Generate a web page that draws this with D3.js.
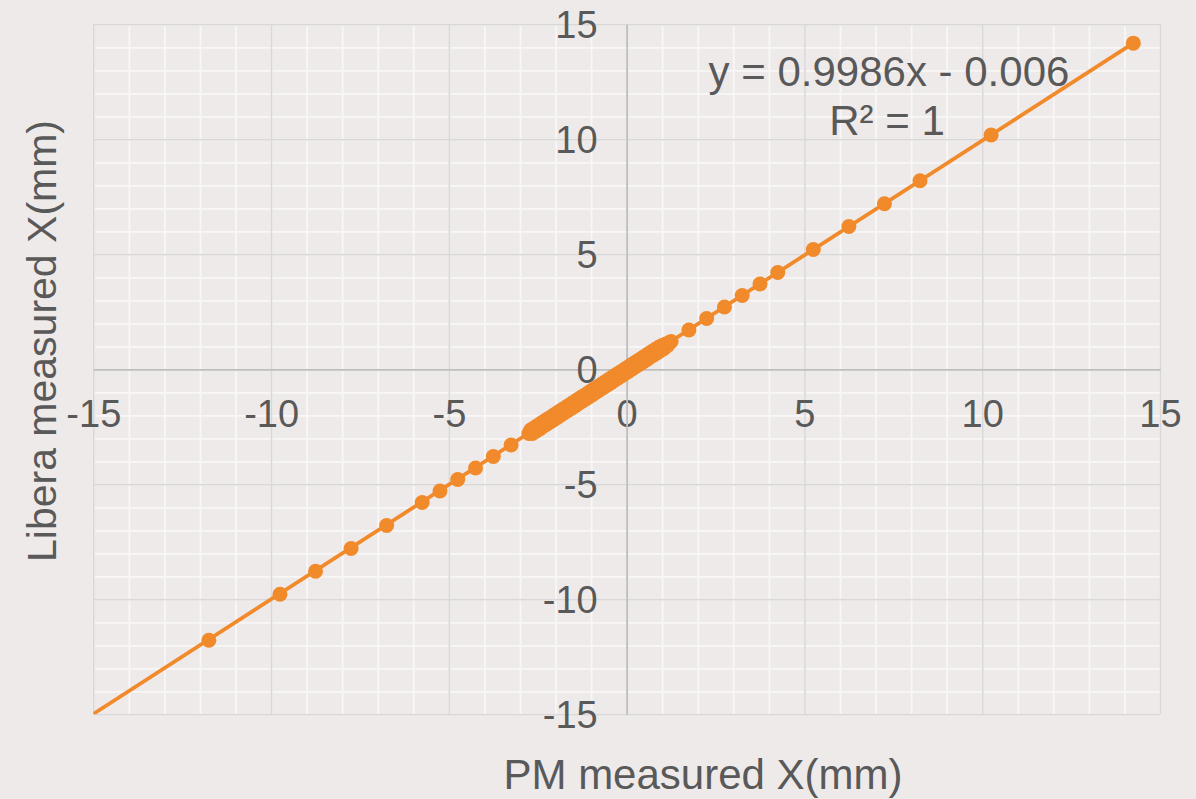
<!DOCTYPE html>
<html>
<head>
<meta charset="utf-8">
<script src="https://cdn.jsdelivr.net/npm/d3@7"></script>
<style>
  html, body { margin: 0; padding: 0; background: #efeaea; }
  svg { display: block; font-family: "Liberation Sans", Arial, sans-serif; }
</style>
</head>
<body>
<svg id="chart" width="1196" height="799"></svg>
<script>
// ---- data ----
const xValues = [
  -11.75, -9.75, -8.75, -7.75, -6.75, -5.75, -5.25, -4.75, -4.25, -3.75, -3.25, -2.75,
  -2.70, -2.65, -2.60, -2.55, -2.50, -2.45, -2.40, -2.35, -2.30, -2.25, -2.20, -2.15,
  -2.10, -2.05, -2.00, -1.95, -1.90, -1.85, -1.80, -1.75, -1.70, -1.65, -1.60, -1.55,
  -1.50, -1.45, -1.40, -1.35, -1.30, -1.25, -1.20, -1.15, -1.10, -1.05, -1.00, -0.95,
  -0.90, -0.85, -0.80, -0.75, -0.70, -0.65, -0.60, -0.55, -0.50, -0.45, -0.40, -0.35,
  -0.30, -0.25, -0.20, -0.15, -0.10, -0.05, 0.00, 0.05, 0.10, 0.15, 0.20, 0.25,
  0.30, 0.35, 0.40, 0.45, 0.50, 0.55, 0.60, 0.65, 0.70, 0.75, 0.80, 0.85,
  0.90, 0.95, 1.00, 1.05, 1.10, 1.15, 1.20,
  1.25, 1.75, 2.25, 2.75, 3.25, 3.75, 4.25, 5.25, 6.25, 7.25, 8.25, 10.25, 14.25
];
const yValues = [
  -11.78, -9.78, -8.78, -7.79, -6.79, -5.79, -5.29, -4.79, -4.29, -3.79, -3.29, -2.79,
  -2.64, -2.79, -2.54, -2.69, -2.44, -2.59, -2.34, -2.49, -2.24, -2.39, -2.14, -2.29,
  -2.04, -2.19, -1.94, -2.09, -1.84, -1.99, -1.74, -1.89, -1.64, -1.79, -1.54, -1.69,
  -1.44, -1.59, -1.34, -1.49, -1.24, -1.39, -1.14, -1.29, -1.04, -1.19, -0.94, -1.09,
  -0.84, -0.99, -0.74, -0.89, -0.64, -0.79, -0.54, -0.69, -0.44, -0.59, -0.34, -0.49,
  -0.24, -0.39, -0.14, -0.29, -0.04, -0.19, 0.06, -0.09, 0.16, 0.01, 0.26, 0.11,
  0.36, 0.21, 0.46, 0.31, 0.56, 0.41, 0.66, 0.51, 0.76, 0.61, 0.86, 0.71,
  0.96, 0.81, 1.04, 0.91, 1.10, 1.04, 1.16,
  1.21, 1.71, 2.21, 2.71, 3.21, 3.71, 4.21, 5.21, 6.21, 7.2, 8.2, 10.19, 14.18
];
const trendSlope = 0.9986;
const trendIntercept = -0.006;
const equationLabel = "y = 0.9986x - 0.006";
const r2Label = "R\u00B2 = 1";
const majorTicks = [-15, -10, -5, 0, 5, 10, 15];
const minorTicks = d3.range(-15, 16, 1);
const xTitle = "PM measured X(mm)";
const yTitle = "Libera measured X(mm)";

// ---- layout ----
const svg = d3.select("#chart");
const pLeft = 93.3, pRight = 1160, pTop = 24.3, pBottom = 714.3;
const x = d3.scaleLinear().domain([-15, 15]).range([pLeft, pRight]);
const y = d3.scaleLinear().domain([-15, 15]).range([pBottom, pTop]);

const textColor = "#595959";
const orange = "#f18a2b";
const fmt = d => String(d);

// minor gridlines
svg.append("g")
  .attr("transform", `translate(0,${pBottom})`)
  .call(d3.axisBottom(x).tickValues(minorTicks).tickSize(-(pBottom - pTop)).tickFormat(""))
  .call(g => g.select(".domain").remove())
  .call(g => g.selectAll("line").attr("stroke", "#f8f6f6").attr("stroke-width", 1.8));
svg.append("g")
  .attr("transform", `translate(${pLeft},0)`)
  .call(d3.axisLeft(y).tickValues(minorTicks).tickSize(-(pRight - pLeft)).tickFormat(""))
  .call(g => g.select(".domain").remove())
  .call(g => g.selectAll("line").attr("stroke", "#f8f6f6").attr("stroke-width", 1.8));

// major gridlines
svg.append("g")
  .attr("transform", `translate(0,${pBottom})`)
  .call(d3.axisBottom(x).tickValues(majorTicks).tickSize(-(pBottom - pTop)).tickFormat(""))
  .call(g => g.select(".domain").remove())
  .call(g => g.selectAll("line").attr("stroke", "#d9d7d7").attr("stroke-width", 1.6));
svg.append("g")
  .attr("transform", `translate(${pLeft},0)`)
  .call(d3.axisLeft(y).tickValues(majorTicks).tickSize(-(pRight - pLeft)).tickFormat(""))
  .call(g => g.select(".domain").remove())
  .call(g => g.selectAll("line").attr("stroke", "#d9d7d7").attr("stroke-width", 1.6));

// axes through zero
const xAxis = svg.append("g")
  .attr("transform", `translate(0,${y(0)})`)
  .call(d3.axisBottom(x).tickValues(majorTicks).tickSize(0).tickPadding(0).tickFormat(fmt));
xAxis.select(".domain").attr("stroke", "#bfbfbf").attr("stroke-width", 1.8);
xAxis.selectAll("text")
  .attr("fill", textColor).attr("font-size", 38)
  .attr("y", 0).attr("dy", 58)
  .style("font-family", "'Liberation Sans', Arial, sans-serif");

const yAxis = svg.append("g")
  .attr("transform", `translate(${x(0)},0)`)
  .call(d3.axisLeft(y).tickValues(majorTicks).tickSize(0).tickPadding(0).tickFormat(fmt));
yAxis.select(".domain").attr("stroke", "#bfbfbf").attr("stroke-width", 1.8);
yAxis.selectAll("text")
  .attr("fill", textColor).attr("font-size", 38)
  .attr("x", -29).attr("dy", 13)
  .attr("text-anchor", "end")
  .style("font-family", "'Liberation Sans', Arial, sans-serif");

// trendline
svg.append("clipPath").attr("id", "plotclip")
  .append("rect").attr("x", pLeft).attr("y", pTop).attr("width", pRight - pLeft).attr("height", pBottom - pTop);
const trendX = [-15, d3.max(xValues)];
svg.append("line")
  .attr("clip-path", "url(#plotclip)")
  .attr("x1", x(trendX[0])).attr("y1", y(trendSlope * trendX[0] + trendIntercept))
  .attr("x2", x(trendX[1])).attr("y2", y(trendSlope * trendX[1] + trendIntercept - 0.04))
  .attr("stroke", orange).attr("stroke-width", 3.8);

// points
const pts = xValues.map((v, i) => ({ x: v, y: yValues[i] }));
svg.append("g").selectAll("circle").data(pts).join("circle")
  .attr("cx", d => x(d.x)).attr("cy", d => y(d.y))
  .attr("r", 7.5).attr("fill", orange);

// trendline equation
svg.append("text").attr("x", 889).attr("y", 86)
  .attr("text-anchor", "middle").attr("font-size", 42).attr("fill", textColor)
  .text(equationLabel);
svg.append("text").attr("x", 887).attr("y", 135)
  .attr("text-anchor", "middle").attr("font-size", 42).attr("fill", textColor)
  .text(r2Label);

// axis titles
svg.append("text").attr("x", 703).attr("y", 789)
  .attr("text-anchor", "middle").attr("font-size", 42).attr("fill", textColor)
  .text(xTitle);
svg.append("text")
  .attr("transform", "translate(56,341) rotate(-90)")
  .attr("text-anchor", "middle").attr("font-size", 41).attr("fill", textColor)
  .text(yTitle);
</script>
</body>
</html>
